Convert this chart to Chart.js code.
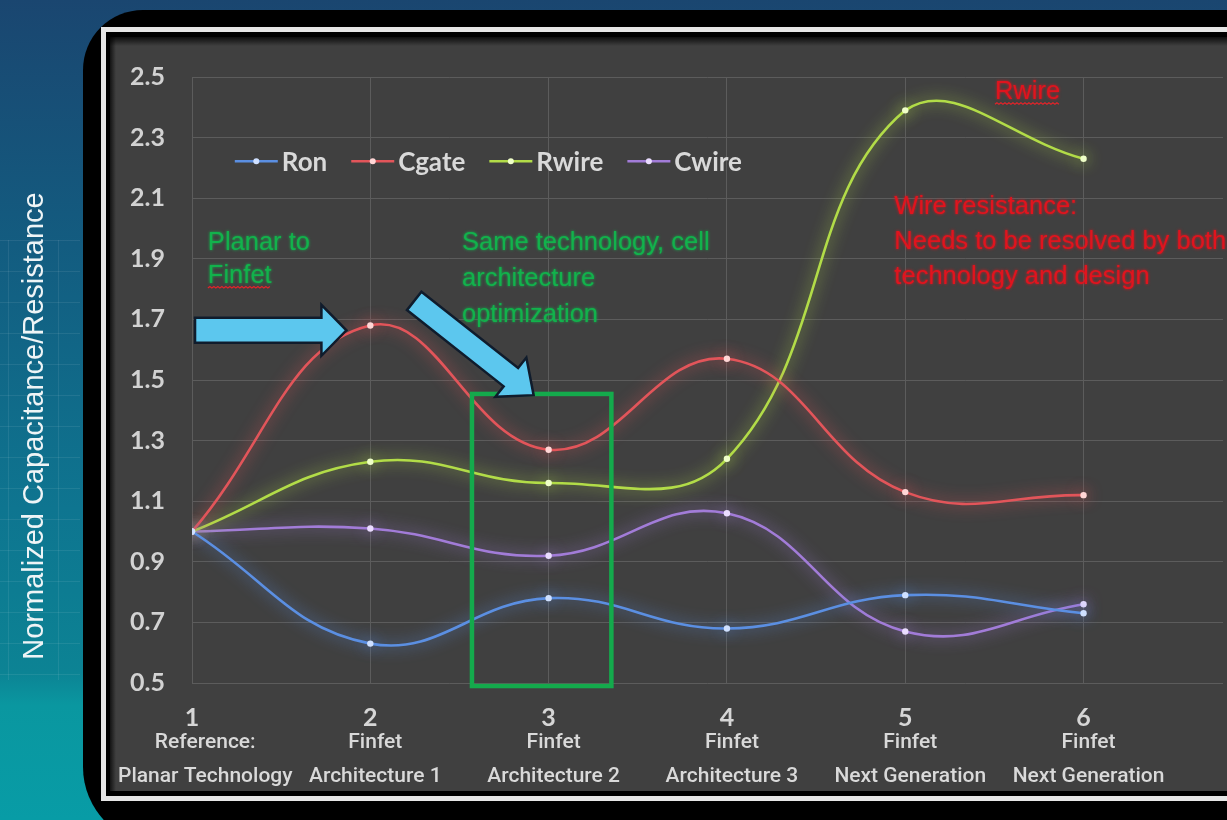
<!DOCTYPE html>
<html>
<head>
<meta charset="utf-8">
<script src="https://cdn.jsdelivr.net/npm/chart.js@4.4.1/dist/chart.umd.min.js"></script>
<style>
  html, body { margin: 0; padding: 0; overflow: hidden; background: #125a7c; }
  #wrap { position: relative; width: 1227px; height: 820px; }
  canvas { display: block; }
</style>
</head>
<body>
<div id="wrap"><canvas id="chart" width="1227" height="820"></canvas></div>
<script>
// Technology stages along the x axis
const stageNumbers = [1, 2, 3, 4, 5, 6];
const stageTypes   = ['Reference:', 'Finfet', 'Finfet', 'Finfet', 'Finfet', 'Finfet'];
const stageDetails = ['Planar Technology', 'Architecture 1', 'Architecture 2',
                      'Architecture 3', 'Next Generation', 'Next Generation'];

// Normalized values per stage
const ron   = [1.00, 0.63, 0.78, 0.68, 0.79, 0.73];
const cgate = [1.00, 1.68, 1.27, 1.57, 1.13, 1.12];
const rwire = [1.00, 1.23, 1.16, 1.24, 2.39, 2.23];
const cwire = [1.00, 1.01, 0.92, 1.06, 0.67, 0.76];

// Value axis ticks
const yTicks = [0.5, 0.7, 0.9, 1.1, 1.3, 1.5, 1.7, 1.9, 2.1, 2.3, 2.5];

const yTitle = 'Normalized Capacitance/Resistance';

const toPoints = arr => arr.map((v, i) => ({ x: stageNumbers[i], y: v }));

function series(label, values, line, dot) {
  return {
    label,
    data: toPoints(values),
    borderColor: line,
    backgroundColor: line,
    pointBackgroundColor: dot,
    pointBorderWidth: 0,
    pointRadius: 3.2,
    borderWidth: 2.6,
    tension: 0.42,
    fill: false
  };
}

// Slide backdrop: gradient, dark panel and framed plot panel
const backdrop = {
  id: 'backdrop',
  beforeDraw(chart) {
    const { ctx, width, height } = chart;
    ctx.save();
    const g = ctx.createLinearGradient(0, 0, 0, height);
    g.addColorStop(0, '#1a4670');
    g.addColorStop(0.3, '#135c80');
    g.addColorStop(0.62, '#0e7590');
    g.addColorStop(0.82, '#0c8394');
    g.addColorStop(0.86, '#0a97a0');
    g.addColorStop(1, '#089ca6');
    ctx.fillStyle = g;
    ctx.fillRect(0, 0, width, height);

    // faint decorative grid on the left strip
    ctx.strokeStyle = 'rgba(255,255,255,0.08)';
    ctx.lineWidth = 1;
    ctx.beginPath();
    for (let y = 240; y <= 680; y += 31) { ctx.moveTo(0, y + 0.5); ctx.lineTo(80, y + 0.5); }
    ctx.moveTo(8.5, 240); ctx.lineTo(8.5, 680);
    ctx.moveTo(58.5, 240); ctx.lineTo(58.5, 680);
    ctx.stroke();

    // black rounded panel
    ctx.fillStyle = '#000000';
    ctx.beginPath();
    ctx.roundRect(83, 10, width, height + 15, [60, 0, 0, 78]);
    ctx.fill();

    // white frame
    ctx.strokeStyle = '#e6e6e6';
    ctx.lineWidth = 5;
    ctx.strokeRect(103.5, 29.5, width, 769);

    // plot panel
    ctx.fillStyle = '#404040';
    ctx.fillRect(110, 37, width, 754);
    const sh = ctx.createLinearGradient(0, 37, 0, 46);
    sh.addColorStop(0, 'rgba(0,0,0,0.8)');
    sh.addColorStop(1, 'rgba(0,0,0,0)');
    ctx.fillStyle = sh;
    ctx.fillRect(110, 37, width, 9);
    const sl = ctx.createLinearGradient(110, 0, 116, 0);
    sl.addColorStop(0, 'rgba(0,0,0,0.7)');
    sl.addColorStop(1, 'rgba(0,0,0,0)');
    ctx.fillStyle = sl;
    ctx.fillRect(110, 37, 6, 754);

    // vertical axis title
    ctx.translate(43, 426);
    ctx.rotate(-Math.PI / 2);
    ctx.fillStyle = '#eef4f6';
    ctx.font = '29px "Liberation Sans", Arial, sans-serif';
    ctx.textAlign = 'center';
    ctx.textBaseline = 'alphabetic';
    ctx.fillText(yTitle, 0, 0);
    ctx.restore();
  }
};

// Soft glow around each series line
const glow = {
  id: 'glow',
  beforeDatasetDraw(chart, args) {
    const ds = chart.data.datasets[args.index];
    chart.ctx.save();
    chart.ctx.shadowColor = ds.borderColor;
    chart.ctx.shadowBlur = 15;
  },
  afterDatasetDraw(chart) {
    chart.ctx.restore();
  }
};

// Second and third lines of each stage label, kept inside the plot panel
const stageLabels = {
  id: 'stageLabels',
  afterDraw(chart) {
    const { ctx } = chart;
    const xs = chart.scales.x;
    const panelLeft = 118;
    ctx.save();
    ctx.fillStyle = '#d9d9d9';
    ctx.font = '500 21px Roboto, sans-serif';
    ctx.textAlign = 'center';
    ctx.textBaseline = 'middle';
    stageNumbers.forEach((n, i) => {
      const w = Math.max(ctx.measureText(stageTypes[i]).width, ctx.measureText(stageDetails[i]).width);
      const x = Math.max(xs.getPixelForValue(n) + 5, panelLeft + w / 2);
      ctx.fillText(stageTypes[i], x, 743);
      ctx.fillText(stageDetails[i], x, 777);
    });
    ctx.restore();
  }
};

// Legend drawn inside the plot
const insideLegend = {
  id: 'insideLegend',
  afterDraw(chart) {
    const { ctx } = chart;
    const xs = chart.scales.x, ys = chart.scales.y;
    let x = xs.getPixelForValue(1.24);
    const y = ys.getPixelForValue(2.222);
    ctx.save();
    ctx.font = 'bold 26px Lato, sans-serif';
    ctx.textBaseline = 'middle';
    chart.data.datasets.forEach(ds => {
      ctx.strokeStyle = ds.borderColor;
      ctx.lineWidth = 2.4;
      ctx.beginPath();
      ctx.moveTo(x, y); ctx.lineTo(x + 43, y);
      ctx.stroke();
      ctx.fillStyle = ds.pointBackgroundColor;
      ctx.beginPath();
      ctx.arc(x + 21.5, y, 3, 0, Math.PI * 2);
      ctx.fill();
      ctx.fillStyle = '#d9d9d9';
      ctx.fillText(ds.label, x + 47, y + 1);
      x += 47 + ctx.measureText(ds.label).width + 24;
    });
    ctx.restore();
  }
};

// Callouts: arrows, highlight box and notes
const callouts = {
  id: 'callouts',
  afterDatasetsDraw(chart) {
    const { ctx } = chart;
    const xs = chart.scales.x, ys = chart.scales.y;
    const px = v => xs.getPixelForValue(v);
    const py = v => ys.getPixelForValue(v);

    ctx.save();
    // highlight box around stage 3
    ctx.strokeStyle = '#14aa4c';
    ctx.lineWidth = 4.5;
    ctx.strokeRect(px(2.57), py(1.454), px(3.352) - px(2.57), py(0.49) - py(1.454));

    function arrow(x0, y0, x1, y1, shaftHalf, headHalf, headLen) {
      const X0 = px(x0), Y0 = py(y0), X1 = px(x1), Y1 = py(y1);
      const dx = X1 - X0, dy = Y1 - Y0;
      const L = Math.hypot(dx, dy);
      const ux = dx / L, uy = dy / L, nx = -uy, ny = ux;
      const at = (s, t) => [X0 + ux * s + nx * t, Y0 + uy * s + ny * t];
      const pts = [at(0, -shaftHalf), at(L - headLen, -shaftHalf), at(L - headLen, -headHalf),
                   at(L, 0), at(L - headLen, headHalf), at(L - headLen, shaftHalf), at(0, shaftHalf)];
      ctx.beginPath();
      pts.forEach((p, i) => i ? ctx.lineTo(p[0], p[1]) : ctx.moveTo(p[0], p[1]));
      ctx.closePath();
      ctx.fillStyle = '#5cc7ee';
      ctx.fill();
      ctx.strokeStyle = '#101c2c';
      ctx.lineWidth = 2.5;
      ctx.lineJoin = 'miter';
      ctx.stroke();
    }
    arrow(1.017, 1.664, 1.866, 1.664, 12.5, 25.5, 25);
    arrow(2.246, 1.761, 2.916, 1.45, 11.7, 25, 29);

    function squiggle(x0, x1, y) {
      ctx.save();
      ctx.shadowBlur = 0;
      ctx.strokeStyle = '#e0242a';
      ctx.lineWidth = 1.2;
      ctx.beginPath();
      let up = true;
      ctx.moveTo(x0, y);
      for (let x = x0 + 2; x <= x1; x += 2) { ctx.lineTo(x, up ? y - 1.5 : y); up = !up; }
      ctx.stroke();
      ctx.restore();
    }

    function note(lines, xv, yv, step, color, underlineLast) {
      ctx.save();
      ctx.font = '25.5px "Liberation Sans", Arial, sans-serif';
      ctx.fillStyle = color;
      ctx.shadowColor = color;
      ctx.shadowBlur = 3;
      ctx.textAlign = 'left';
      ctx.textBaseline = 'middle';
      const x = px(xv), y = py(yv);
      lines.forEach((t, i) => {
        ctx.fillText(t, x, y + i * step);
        if (underlineLast && i === lines.length - 1) {
          squiggle(x, x + ctx.measureText(t).width, y + i * step + 12);
        }
      });
      ctx.restore();
    }
    note(['Planar to', 'Finfet'], 1.089, 1.952, 33, '#12b24c', true);
    note(['Same technology, cell', 'architecture', 'optimization'], 2.514, 1.952, 36, '#12b24c', false);
    note(['Wire resistance:', 'Needs to be resolved by both', 'technology and design'], 4.939, 2.071, 35, '#e0141e', false);
    note(['Rwire'], 5.503, 2.45, 0, '#e0141e', true);
    ctx.restore();
  }
};

const axisFont = { family: 'Lato, sans-serif', weight: 'bold', size: 25 };

new Chart(document.getElementById('chart'), {
  type: 'line',
  data: {
    datasets: [
      series('Ron',   ron,   '#5b8fe2', '#cfe0ff'),
      series('Cgate', cgate, '#e2555a', '#ffd6d6'),
      series('Rwire', rwire, '#b2dc48', '#efffc8'),
      series('Cwire', cwire, '#a27cd8', '#eadcff')
    ]
  },
  options: {
    responsive: false,
    animation: false,
    layout: { padding: { top: 77, left: 0, right: 0, bottom: 0 } },
    plugins: { legend: { display: false }, tooltip: { enabled: false } },
    scales: {
      x: {
        type: 'linear',
        min: 1,
        max: 6.782,
        afterBuildTicks: s => { s.ticks = stageNumbers.map(v => ({ value: v })); },
        afterFit: s => { s.height = 137; },
        grid: { color: '#5c5c5c', lineWidth: 1, drawTicks: false },
        border: { display: false },
        ticks: { padding: 20, color: '#d6d6d6', font: axisFont, maxRotation: 0, autoSkip: false,
                 callback: v => String(v) }
      },
      y: {
        min: 0.5,
        max: 2.5,
        afterBuildTicks: s => { s.ticks = yTicks.map(v => ({ value: v })); },
        afterFit: s => { s.width = 192; },
        grid: { color: '#5c5c5c', lineWidth: 1, drawTicks: false },
        border: { display: false },
        ticks: { padding: 27, color: '#d2d2d2', font: axisFont, callback: v => v.toFixed(1) }
      }
    }
  },
  plugins: [backdrop, glow, callouts, stageLabels, insideLegend]
});
</script>
</body>
</html>
